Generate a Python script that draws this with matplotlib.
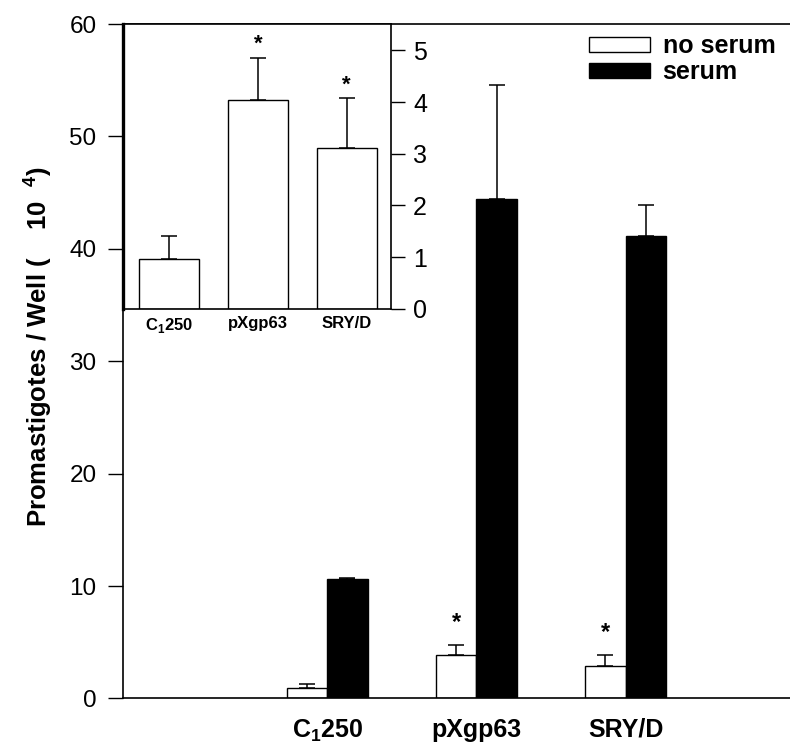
import matplotlib
matplotlib.use("Agg")
import matplotlib.pyplot as plt
import numpy as np

plt.rcParams['font.family'] = ['Liberation Sans', 'DejaVu Sans']
plt.rcParams['mathtext.fontset'] = 'custom'
plt.rcParams['mathtext.rm'] = 'Liberation Sans:bold'
plt.rcParams['mathtext.bf'] = 'Liberation Sans:bold'

# main chart data
categories = ["C$_\\mathbf{1}$250", "pXgp63", "SRY/D"]
no_serum = [0.9, 3.9, 2.9]
no_serum_err = [0.41, 0.86, 0.98]
serum = [10.6, 44.4, 41.1]
serum_err = [0.16, 10.2, 2.8]
main_stars = [False, True, True]

# inset data
inset_values = [0.97, 4.03, 3.11]
inset_err = [0.43, 0.83, 0.96]
inset_stars = [False, True, True]

fig = plt.figure(figsize=(7.9, 7.46), dpi=100)
ax = fig.add_axes([0.1557, 0.0637, 0.8443, 0.9041])

x = np.arange(1, len(categories) + 1)
w = 0.271
ax.bar(x - w / 2, no_serum, w, color='white', edgecolor='black', linewidth=1.0,
       label='no serum', zorder=2)
ax.bar(x + w / 2, serum, w, color='black', edgecolor='black', linewidth=1.0,
       label='serum', zorder=2)
ax.errorbar(x - w / 2, no_serum, yerr=[np.zeros(3), no_serum_err], fmt='none',
            ecolor='black', elinewidth=1.1, capsize=5.5, capthick=1.1, zorder=1)
ax.errorbar(x + w / 2, serum, yerr=[np.zeros(3), serum_err], fmt='none',
            ecolor='black', elinewidth=1.1, capsize=5.5, capthick=1.1, zorder=1)
for xi, v, e, s in zip(x, no_serum, no_serum_err, main_stars):
    if s:
        ax.text(xi - w / 2, v + e + 1.0, '*', ha='center', va='bottom',
                fontsize=17, fontweight='bold')

ax.set_xlim(-0.369, 4.101)
ax.set_ylim(0, 60)
ax.set_yticks([0, 10, 20, 30, 40, 50, 60])
ax.tick_params(axis='y', direction='out', length=11, width=1, labelsize=17.5, pad=8)
ax.set_xticks(x)
ax.set_xticklabels(categories, fontsize=18, fontweight='bold')
ax.tick_params(axis='x', length=0, pad=14)
ax.spines['right'].set_visible(False)
for sp in ['left', 'bottom', 'top']:
    ax.spines[sp].set_linewidth(1.2)

leg = ax.legend(loc='upper left', bbox_to_anchor=(0.7456, 0.954),
                bbox_transform=fig.transFigure, frameon=False,
                prop={'weight': 'bold', 'size': 18}, handlelength=2.44,
                handleheight=0.6, handletextpad=0.5, labelspacing=0.08,
                borderpad=0, borderaxespad=0)

fig.text(0.047, 0.536, "Promastigotes / Well (    10  $^{4}$)", rotation=90,
         ha='center', va='center', fontsize=18.5, fontweight='bold')

# inset
ax2 = fig.add_axes([0.1557, 0.5862, 0.3392, 0.3816])
xi2 = np.arange(len(inset_values))
ax2.bar(xi2, inset_values, 0.676, color='white', edgecolor='black', linewidth=1.0, zorder=2)
ax2.errorbar(xi2, inset_values, yerr=[np.zeros(3), inset_err], fmt='none',
             ecolor='black', elinewidth=1.1, capsize=5.5, capthick=1.1, zorder=1)
for xx, v, e, s in zip(xi2, inset_values, inset_err, inset_stars):
    if s:
        ax2.text(xx, v + e + 0.05, '*', ha='center', va='bottom',
                 fontsize=16, fontweight='bold')
ax2.set_xlim(-0.52, 2.5)
ax2.set_ylim(0, 5.51)
ax2.yaxis.tick_right()
ax2.set_yticks([0, 1, 2, 3, 4, 5])
ax2.tick_params(axis='y', direction='out', length=10, width=1, labelsize=18, pad=6)
ax2.set_xticks(xi2)
ax2.set_xticklabels(categories, fontsize=12, fontweight='bold')
ax2.tick_params(axis='x', length=0, pad=5)
ax2.spines['left'].set_linewidth(2.4)
for sp in ['right', 'bottom', 'top']:
    ax2.spines[sp].set_linewidth(1.2)

fig.savefig('out.png', dpi=100)
